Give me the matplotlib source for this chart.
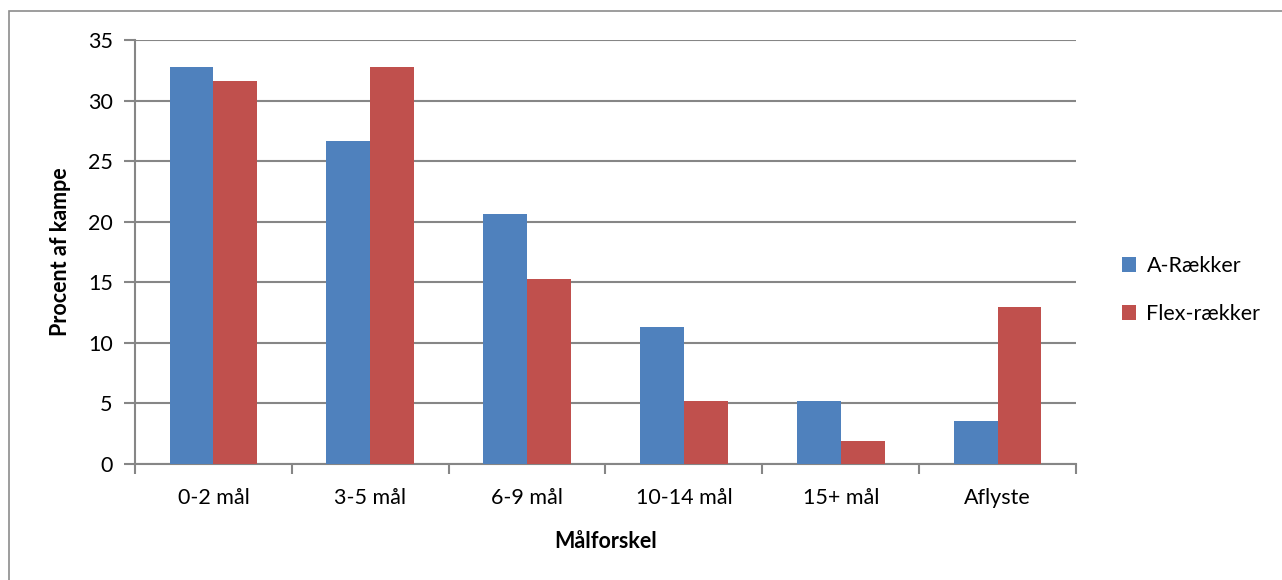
import matplotlib
matplotlib.use("Agg")
import matplotlib.pyplot as plt
import numpy as np
from matplotlib.patches import Rectangle

categories = ["0-2 mål", "3-5 mål", "6-9 mål", "10-14 mål", "15+ mål", "Aflyste"]
a_raekker = [32.8, 26.7, 20.6, 11.3, 5.2, 3.55]
flex_raekker = [31.6, 32.8, 15.3, 5.2, 1.9, 13.0]
series_names = ["A-Rækker", "Flex-rækker"]
yticks = [0, 5, 10, 15, 20, 25, 30, 35]

plt.rcParams['font.family'] = ['Lato', 'DejaVu Sans']

W, H = 1282, 580
fig = plt.figure(figsize=(W/100, H/100), dpi=100)
fig.patches.append(Rectangle((9/W, -0.01), 1.1, 1 - 11/H + 0.01, transform=fig.transFigure,
                             fill=False, edgecolor='#8c8c8c', linewidth=1.2))

ax = fig.add_axes([135/W, 1 - 464/H, (1076-135)/W, (464-40)/H])
x = np.arange(len(categories))
bw = 0.28
gray = '#868686'
fs = 15.5
ax.bar(x - bw/2, a_raekker, bw, color='#4F81BD', label=series_names[0], zorder=3)
ax.bar(x + bw/2, flex_raekker, bw, color='#C0504D', label=series_names[1], zorder=3)

ax.set_xlim(-0.5, len(categories) - 0.5)
ax.set_ylim(0, 35)
ax.set_yticks(yticks)
ax.yaxis.grid(True, color=gray, linewidth=1.5, zorder=0)
ax.set_axisbelow(True)
for s in ['top', 'right']:
    ax.spines[s].set_visible(False)
for s in ['left', 'bottom']:
    ax.spines[s].set_color(gray)
    ax.spines[s].set_linewidth(1.5)

ax.set_xticks(np.arange(len(categories) + 1) - 0.5)
ax.set_xticklabels([])
ax.set_xticks(x, minor=True)
ax.set_xticklabels(categories, minor=True, fontsize=fs)
ax.tick_params(axis='x', which='major', length=7, width=1.5, color=gray, direction='out')
ax.tick_params(axis='x', which='minor', length=0, pad=17)
ax.tick_params(axis='y', length=8, width=1.5, color=gray, labelsize=fs, pad=8)

ax.set_ylabel("Procent af kampe", fontsize=fs, fontweight='bold', labelpad=12)
ax.set_xlabel("Målforskel", fontsize=fs, fontweight='bold', labelpad=17)

leg = ax.legend(loc='center left', bbox_to_anchor=(1.028, 0.41), frameon=False,
                fontsize=fs, handlelength=0.65, handleheight=0.65, labelspacing=1.3,
                handletextpad=0.5)

fig.savefig("out.png", dpi=100)
